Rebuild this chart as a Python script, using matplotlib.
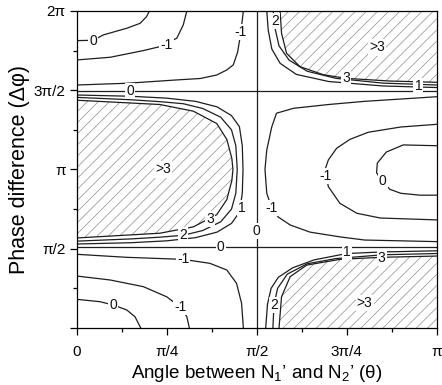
import matplotlib
matplotlib.use('Agg')
import matplotlib.pyplot as plt
from matplotlib.ticker import MultipleLocator

plt.rcParams['font.family'] = ['Liberation Sans', 'DejaVu Sans']
plt.rcParams['hatch.linewidth'] = 0.5
plt.rcParams['mathtext.fontset'] = 'custom'

# contour lines, as (theta/pi, dphi/pi)
ul_0 = [(0, 1.813), (0.046, 1.815), (0.074, 1.849), (0.139, 1.891), (0.176, 1.922), (0.194, 1.964), (0.202, 2.0)]
ul_m1a = [(0, 1.691), (0.093, 1.708), (0.185, 1.75), (0.231, 1.775), (0.278, 1.828), (0.296, 1.912), (0.306, 2.0)]
ul_m1b = [(0, 1.533), (0.139, 1.544), (0.278, 1.565), (0.343, 1.574), (0.389, 1.596), (0.417, 1.628),
          (0.435, 1.66), (0.447, 1.74), (0.455, 1.85), (0.463, 2.0)]

ll_0 = [(0, 0.181), (0.065, 0.166), (0.102, 0.145), (0.139, 0.114), (0.162, 0.071), (0.178, 0)]
ll_m1a = [(0, 0.328), (0.093, 0.303), (0.185, 0.261), (0.25, 0.197), (0.287, 0.134), (0.306, 0.071), (0.313, 0)]
ll_m1b = [(0, 0.465), (0.139, 0.446), (0.296, 0.433), (0.37, 0.408), (0.417, 0.366), (0.444, 0.282),
          (0.458, 0.156), (0.463, 0)]

line_top = [(0, 1.497), (1, 1.497)]
line_bot = [(0, 0.508), (1, 0.508)]
line_mid = [(0.5, 0), (0.5, 2)]

# left "D" shaped high region
d_3 = [(0, 0.568), (0.231, 0.598), (0.324, 0.638), (0.389, 0.715), (0.417, 0.81), (0.431, 0.93), (0.434, 1.0),
       (0.431, 1.07), (0.417, 1.19), (0.389, 1.29), (0.324, 1.368), (0.231, 1.41), (0, 1.437)]
d_2 = [(0, 0.548), (0.15, 0.562), (0.231, 0.573), (0.296, 0.585), (0.35, 0.615), (0.4, 0.67), (0.43, 0.75),
       (0.442, 0.85), (0.446, 1.0), (0.442, 1.15), (0.43, 1.25), (0.4, 1.33), (0.35, 1.385), (0.296, 1.415),
       (0.231, 1.428), (0.15, 1.44), (0, 1.455)]
d_1 = [(0, 0.53), (0.15, 0.538), (0.25, 0.55), (0.33, 0.57), (0.39, 0.605), (0.43, 0.66), (0.452, 0.73),
       (0.46, 0.85), (0.462, 1.0), (0.46, 1.15), (0.452, 1.27), (0.43, 1.34), (0.39, 1.395), (0.33, 1.43),
       (0.25, 1.45), (0.15, 1.462), (0, 1.47)]

# upper right high region
ur_3 = [(0.565, 2.0), (0.569, 1.859), (0.583, 1.733), (0.62, 1.649), (0.685, 1.598), (0.748, 1.575),
        (0.87, 1.558), (1.0, 1.55)]
ur_2 = [(0.546, 2.0), (0.55, 1.9), (0.562, 1.78), (0.59, 1.69), (0.64, 1.62), (0.72, 1.575), (0.85, 1.545),
        (1.0, 1.533)]
ur_1 = [(0.528, 2.0), (0.532, 1.88), (0.542, 1.76), (0.565, 1.67), (0.61, 1.6), (0.7, 1.555), (0.85, 1.527),
        (1.0, 1.517)]

# lower right high region
lr_3 = [(0.562, 0), (0.569, 0.197), (0.593, 0.324), (0.639, 0.397), (0.731, 0.433), (0.843, 0.446), (1.0, 0.454)]
lr_2 = [(0.545, 0), (0.548, 0.145), (0.558, 0.25), (0.585, 0.34), (0.64, 0.405), (0.72, 0.438), (0.85, 0.462),
        (1.0, 0.47)]
lr_1 = [(0.525, 0), (0.53, 0.15), (0.54, 0.25), (0.56, 0.32), (0.6, 0.38), (0.66, 0.43), (0.75, 0.47),
        (0.85, 0.48), (1.0, 0.487)]

# right middle low region
rm_m1a = [(1.0, 0.545), (0.8, 0.555), (0.731, 0.575), (0.648, 0.605), (0.593, 0.65), (0.56, 0.7), (0.542, 0.755),
          (0.528, 0.85), (0.523, 1.0), (0.528, 1.123), (0.542, 1.27), (0.555, 1.355), (0.602, 1.386),
          (0.7, 1.41), (0.8, 1.43), (1.0, 1.459)]
rm_m1b = [(1.0, 1.285), (0.9, 1.268), (0.81, 1.235), (0.759, 1.19), (0.722, 1.134), (0.699, 1.06), (0.69, 1.0),
          (0.699, 0.892), (0.731, 0.787), (0.778, 0.724), (0.843, 0.694), (1.0, 0.682)]
rm_0 = [(1.0, 1.15), (0.907, 1.155), (0.86, 1.11), (0.835, 1.04), (0.833, 0.98), (0.847, 0.93), (0.87, 0.875),
        (0.9, 0.85), (0.954, 0.838), (1.0, 0.838)]

contours = [ul_0, ul_m1a, ul_m1b, ll_0, ll_m1a, ll_m1b, line_top, line_bot, line_mid,
            d_3, d_2, d_1, ur_3, ur_2, ur_1, lr_3, lr_2, lr_1, rm_m1a, rm_m1b, rm_0]

# contour labels: text, theta/pi, dphi/pi
label_text = ['0', '-1', '-1', '2', '>3', '3', '1', '0', '>3', '3', '2', '1', '0', '0',
              '-1', '-1', '0', '-1', '-1', '0', '1', '3', '2', '>3']
label_x = [0.046, 0.25, 0.455, 0.551, 0.835, 0.748, 0.949, 0.148, 0.24, 0.37, 0.296, 0.458, 0.5, 0.4,
           0.296, 0.287, 0.102, 0.542, 0.69, 0.85, 0.75, 0.847, 0.548, 0.8]
label_y = [1.813, 1.785, 1.865, 1.935, 1.77, 1.575, 1.525, 1.497, 1.0, 0.686, 0.585, 0.755, 0.612, 0.508,
           0.433, 0.134, 0.145, 0.755, 0.96, 0.93, 0.481, 0.44, 0.145, 0.16]

x_ticks = [0, 0.25, 0.5, 0.75, 1.0]
x_ticklabels = ['0', 'π/4', 'π/2', '3π/4', 'π']
y_ticks = [0, 0.5, 1.0, 1.5, 2.0]
y_ticklabels = ['', 'π/2', 'π', '3π/2', '2π']

fig = plt.figure(figsize=(4.42, 3.85), dpi=100)
ax = fig.add_axes([0.1735, 0.148, 0.8145, 0.8235])

line_color = '#1e1e1e'
hatch_color = '#8f8f8f'

# hatched ">3" regions bounded by the 3 contour and the frame
d_region = d_3 + [(0, 0.568)]
ur_region = ur_3 + [(1.0, 2.0)]
lr_region = lr_3 + [(1.0, 0)]
for reg in [d_region, ur_region, lr_region]:
    xs, ys = zip(*reg)
    ax.fill(xs, ys, facecolor='none', edgecolor=hatch_color, hatch='///', linewidth=0)

for c in contours:
    xs, ys = zip(*c)
    ax.plot(xs, ys, color=line_color, linewidth=0.9)

for s, x, y in zip(label_text, label_x, label_y):
    ax.text(x, y, s, ha='center', va='center', fontsize=10, color='#111111', zorder=5,
            bbox=dict(boxstyle='square,pad=0.08', facecolor='white', edgecolor='none'))

ax.set_xlim(0, 1)
ax.set_ylim(0, 2)
ax.set_xticks(x_ticks)
ax.set_xticklabels(x_ticklabels)
ax.set_yticks(y_ticks)
ax.set_yticklabels(y_ticklabels)
ax.xaxis.set_minor_locator(MultipleLocator(0.125))
ax.yaxis.set_minor_locator(MultipleLocator(0.25))
ax.tick_params(which='major', direction='out', length=5, width=0.9, labelsize=11)
ax.tick_params(axis='x', which='major', pad=7)
ax.tick_params(axis='y', which='major', pad=3)
ax.tick_params(which='minor', direction='out', length=3, width=0.9)
for sp in ax.spines.values():
    sp.set_linewidth(0.9)

ax.set_xlabel(r'Angle between N$_\mathregular{1}$’ and N$_\mathregular{2}$’ (θ)', fontsize=13.5, labelpad=3)
ax.set_ylabel('Phase difference (Δφ)', fontsize=15.5, labelpad=3)

fig.savefig('out.png', dpi=100, facecolor='white')
plt.close(fig)
